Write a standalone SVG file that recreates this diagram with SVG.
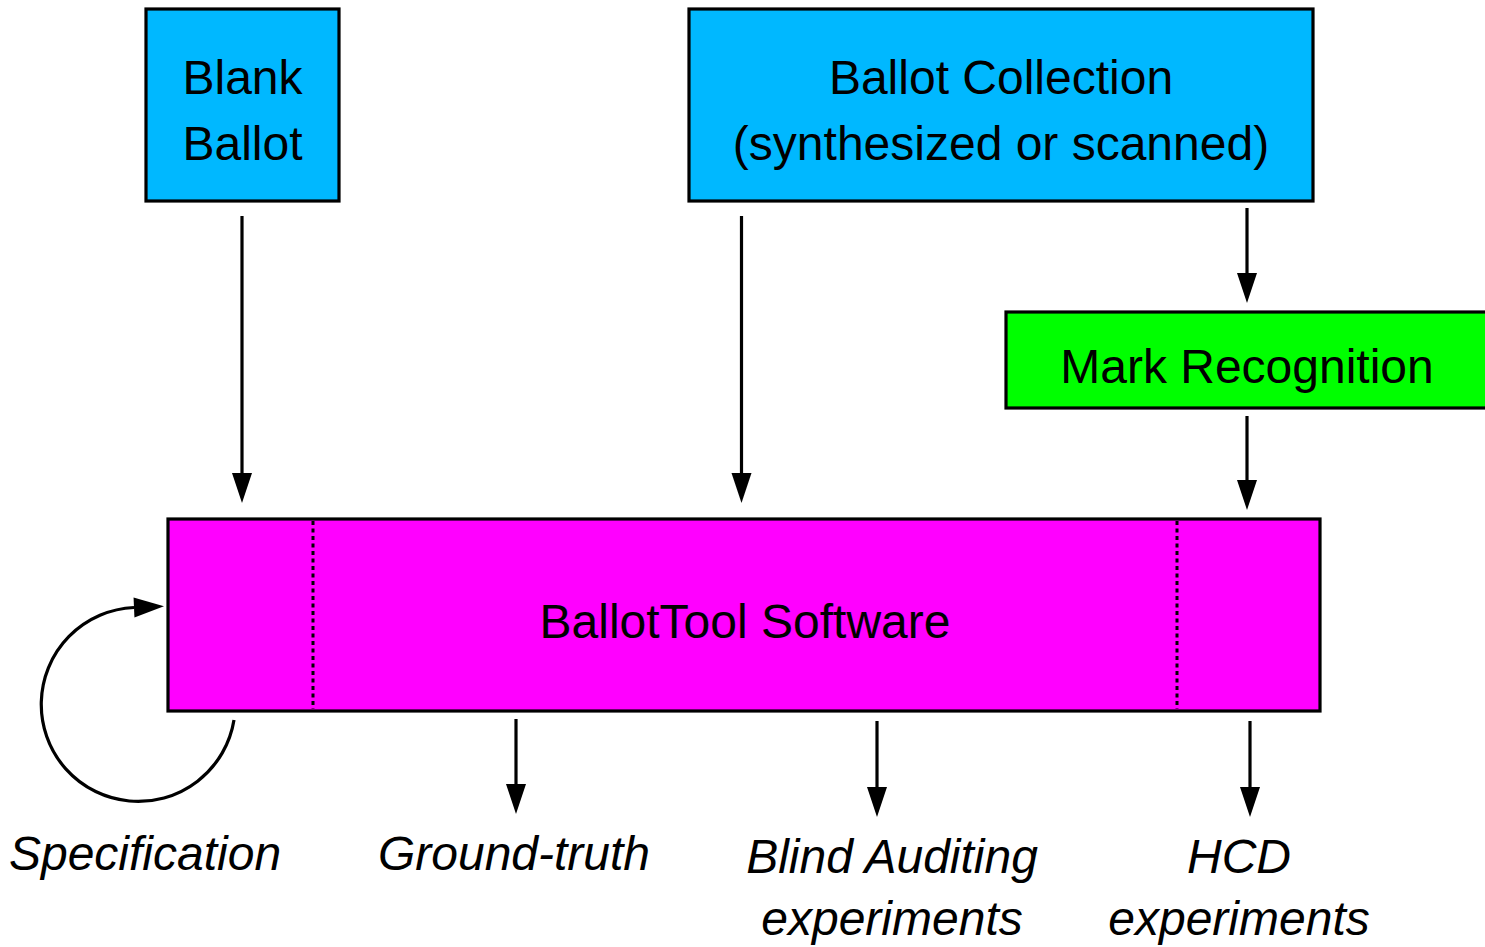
<svg xmlns="http://www.w3.org/2000/svg" width="1485" height="947" viewBox="0 0 1485 947">
<style>
.box{stroke:#000;stroke-width:3.2}
.t{font-family:"Liberation Sans",Arial,sans-serif;font-size:48px;fill:#000;text-anchor:middle}
.i{font-style:italic}
.c{stroke:#000;stroke-width:3.2;fill:none;marker-end:url(#ah)}
.dot{stroke:#000;stroke-width:3;stroke-dasharray:4 3.5}
</style>
<defs>
<marker id="ah" markerUnits="userSpaceOnUse" markerWidth="30" markerHeight="20" viewBox="0 0 30 20" refX="0" refY="10" orient="auto" overflow="visible">
<path d="M0,0 L30,10 L0,20 z" fill="#000"/>
</marker>
</defs>
<rect width="1485" height="947" fill="#fff"/>
<g id="blank-ballot">
<rect class="box" x="146" y="9" width="193" height="192" fill="#00B8FF"/>
<text class="t" x="242.5" y="94">Blank</text>
<text class="t" x="242.5" y="160">Ballot</text>
</g>
<g id="ballot-collection">
<rect class="box" x="689" y="9" width="624" height="192" fill="#00B8FF"/>
<text class="t" x="1001" y="94">Ballot Collection</text>
<text class="t" x="1001" y="160">(synthesized or scanned)</text>
</g>
<g id="mark-recognition">
<rect class="box" x="1006" y="312" width="500" height="96" fill="#00FF00"/>
<text class="t" x="1247" y="383">Mark Recognition</text>
</g>
<g id="ballottool">
<rect class="box" x="168" y="519" width="1152" height="192" fill="#FF00FF"/>
<line class="dot" x1="313" y1="521" x2="313" y2="709"/>
<line class="dot" x1="1177" y1="521" x2="1177" y2="709"/>
<text class="t" x="745" y="638">BallotTool Software</text>
</g>
<g id="specification"><text class="t i" x="145" y="870">Specification</text></g>
<g id="ground-truth"><text class="t i" x="514" y="870">Ground-truth</text></g>
<g id="blind-auditing">
<text class="t i" x="892" y="873">Blind Auditing</text>
<text class="t i" x="892" y="935">experiments</text>
</g>
<g id="hcd">
<text class="t i" x="1239" y="873">HCD</text>
<text class="t i" x="1239" y="935">experiments</text>
</g>
<g id="connectors">
<line class="c" x1="242" y1="216" x2="242" y2="473"/>
<line class="c" x1="741.5" y1="216" x2="741.5" y2="473"/>
<line class="c" x1="1247" y1="208" x2="1247" y2="273"/>
<line class="c" x1="1247" y1="416" x2="1247" y2="480"/>
<line class="c" x1="516" y1="719" x2="516" y2="784"/>
<line class="c" x1="877" y1="721" x2="877" y2="787"/>
<line class="c" x1="1250" y1="721" x2="1250" y2="787"/>
<path class="c" d="M234,720 A97,97 0 1 1 134,607.5"/>
</g>
</svg>
